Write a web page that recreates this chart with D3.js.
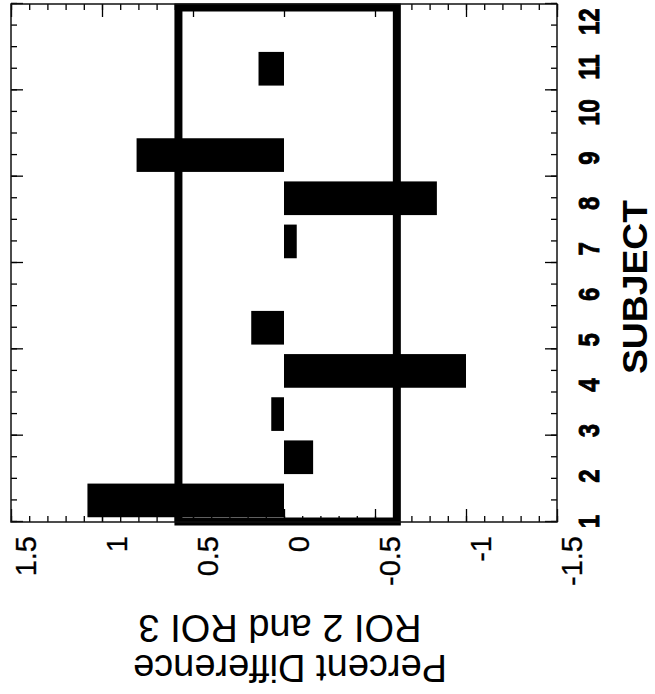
<!DOCTYPE html>
<html>
<head>
<meta charset="utf-8">
<script src="https://cdn.jsdelivr.net/npm/d3@7"></script>
<style>
  body { margin: 0; background: #fff; }
  svg { display: block; }
  text { font-family: "Liberation Sans", Arial, Helvetica, sans-serif; fill: #000; }
</style>
</head>
<body>
<div id="chart"></div>
<script>
// ---- data ----
const subjects = [1, 2, 3, 4, 5, 6, 7, 8, 9, 10, 11, 12];
const percentDiff = [1.08, -0.16, 0.07, -1.0, 0.18, 0, -0.07, -0.84, 0.81, 0, 0.14, 0];
const cutoffs = [0.58, -0.62];
const valueTicks = [1.5, 1, 0.5, 0, -0.5, -1, -1.5];
const valueTickLabels = ["1.5", "1", "0.5", "0", "-0.5", "-1", "-1.5"];
const subjectTicks = [1, 3, 5, 7, 9, 11, 13];
const yTitle = ["Percent Difference", "ROI 2 and ROI 3"];
const xTitle = "SUBJECT";

const W = 655, H = 694;
// chart is laid out upright in an H x W frame, then turned 90deg counter-clockwise
const margin = {top: 11, right: 4, bottom: 98, left: 172};
const innerW = H - margin.left - margin.right;
const innerH = W - margin.top - margin.bottom;

const x = d3.scaleLinear().domain([1, 13]).range([0, innerW]);
const y = d3.scaleLinear().domain([-1.5, 1.5]).range([innerH, 0]);
// subject labels drift a little from the ticks in the original figure
const xLabel = d3.scaleLinear().domain([1, 12]).range([x(1), x(12.58)]);

const minorValue = d3.range(-15, 16).map(d => d / 10);
const minorSubject = d3.range(2, 27).map(d => d / 2);

const svg = d3.select("#chart")
    .append("svg")
    .attr("width", W)
    .attr("height", H)
    .attr("viewBox", `0 0 ${W} ${H}`);

svg.append("rect").attr("width", W).attr("height", H).attr("fill", "#fff");

const g = svg.append("g")
    .attr("transform", `translate(0,${H}) rotate(-90)`)
    .append("g")
    .attr("transform", `translate(${margin.left},${margin.top})`);

function styleAxis(sel) {
    sel.select(".domain").remove();
    sel.selectAll(".tick line").attr("stroke", "#000").attr("stroke-width", 1.3);
}

// threshold box
g.append("rect")
    .attr("x", 0.5)
    .attr("y", y(cutoffs[0]))
    .attr("width", x(13) - 4)
    .attr("height", y(cutoffs[1]) - y(cutoffs[0]))
    .attr("fill", "none")
    .attr("stroke", "#000")
    .attr("stroke-width", 8);

// bars
g.append("g")
    .selectAll("rect")
    .data(subjects.map((s, i) => ({s: s, v: percentDiff[i]})))
    .join("rect")
    .attr("x", d => x(d.s + 0.11))
    .attr("width", d => x(d.s + 0.89) - x(d.s + 0.11))
    .attr("y", d => y(Math.max(0, d.v)))
    .attr("height", d => Math.abs(y(d.v) - y(0)))
    .attr("fill", "#000");

// value axis (left) with labels, plus minor ticks
g.append("g")
    .call(d3.axisLeft(y).tickValues(minorValue).tickSize(-6).tickFormat(""))
    .call(styleAxis);
const yAx = g.append("g")
    .call(d3.axisLeft(y).tickValues(valueTicks).tickSize(-13).tickPadding(14)
        .tickFormat((d, i) => valueTickLabels[i]))
    .call(styleAxis);
yAx.selectAll("text")
    .attr("y", 15)
    .attr("stroke", "#000")
    .attr("stroke-width", 0.3)
    .style("font-size", "29px")
    .style("font-family", "'Liberation Sans', Arial, sans-serif");

// mirrored value ticks (right)
g.append("g")
    .attr("transform", `translate(${innerW},0)`)
    .call(d3.axisRight(y).tickValues(minorValue).tickSize(-6).tickFormat(""))
    .call(styleAxis);
g.append("g")
    .attr("transform", `translate(${innerW},0)`)
    .call(d3.axisRight(y).tickValues(valueTicks).tickSize(-13).tickFormat(""))
    .call(styleAxis);

// subject axis (bottom) ticks
g.append("g")
    .attr("transform", `translate(0,${innerH})`)
    .call(d3.axisBottom(x).tickValues(minorSubject).tickSize(-6).tickFormat(""))
    .call(styleAxis);
g.append("g")
    .attr("transform", `translate(0,${innerH})`)
    .call(d3.axisBottom(x).tickValues(subjectTicks).tickSize(-12).tickFormat(""))
    .call(styleAxis);
// subject labels (heavy bold)
const xAx = g.append("g")
    .attr("transform", `translate(0,${innerH})`)
    .call(d3.axisBottom(xLabel).tickValues(subjects).tickSize(0).tickPadding(21).tickFormat(d3.format("d")))
    .call(styleAxis);
xAx.selectAll("text")
    .style("font-size", "30px")
    .style("font-weight", "700")
    .style("font-family", "'Liberation Sans', Arial, sans-serif")
    .attr("stroke", "#000")
    .attr("stroke-width", 0.9)
    .attr("transform", "scale(0.8,1)");

// mirrored subject ticks (top)
g.append("g")
    .call(d3.axisTop(x).tickValues(minorSubject).tickSize(-6).tickFormat(""))
    .call(styleAxis);
g.append("g")
    .call(d3.axisTop(x).tickValues(subjectTicks).tickSize(-12).tickFormat(""))
    .call(styleAxis);

// frame
g.append("rect")
    .attr("width", innerW)
    .attr("height", innerH)
    .attr("fill", "none")
    .attr("stroke", "#111")
    .attr("stroke-width", 1.5);

// titles
g.append("g")
    .selectAll("text")
    .data(yTitle)
    .join("text")
    .attr("transform", (d, i) => `translate(${-133 + i * 40},${innerH / 2 + 6 - i * 10}) rotate(-90)`)
    .attr("text-anchor", "middle")
    .style("font-size", "38px")
    .text(d => d);

g.append("text")
    .attr("x", 235)
    .attr("y", innerH + 90)
    .attr("text-anchor", "middle")
    .style("font-size", "35px")
    .style("font-weight", "700")
    .attr("textLength", 174)
    .attr("lengthAdjust", "spacingAndGlyphs")
    .text(xTitle);
</script>
</body>
</html>
